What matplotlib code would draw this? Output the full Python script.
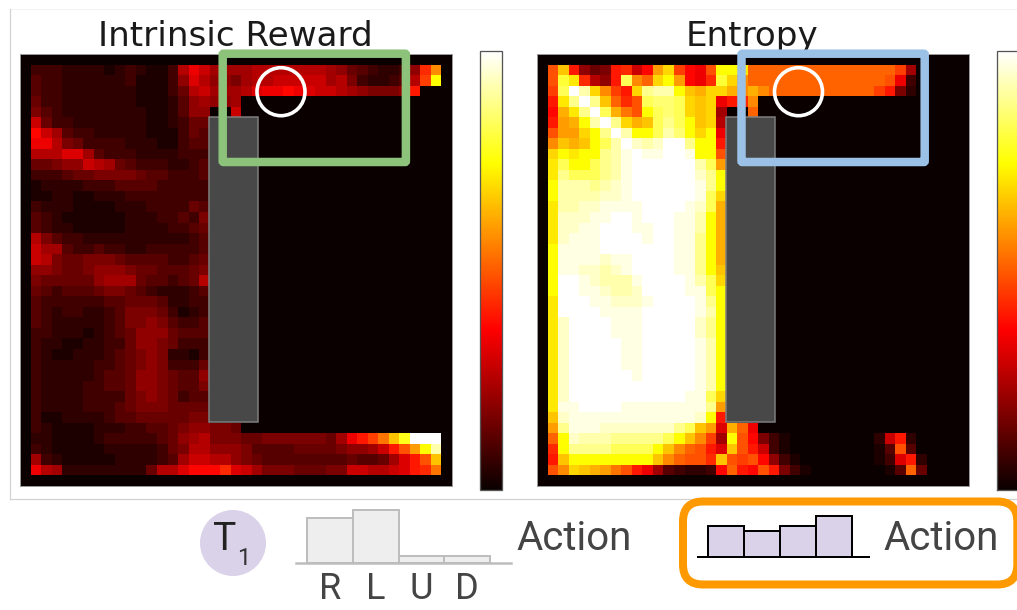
import matplotlib
matplotlib.use("Agg")
import matplotlib.pyplot as plt
import numpy as np
from matplotlib.patches import Rectangle, Circle, FancyBboxPatch

W, H = 1017, 610

# heatmap cells, one base-36 digit per cell (0 = 0.0, z = 1.0), short rows are 0 on the right
intrinsic_rows = [
    "3332222123211 39ca 8888 9999999 875432237fk",
    "4332222223111 37b9 7768 99aaaaa 896322349gq",
    "4332222222111 359a 8889 bccdcbaa9 876667e",
    "53322222221112478778",
    "6432222222211247700a",
    "a5332222222112355",
    "da843322222111354",
    "cc965333322211344",
    "999bb843332222333",
    "55677a98543332234",
    "33345566665443334",
    "12222333444433333",
    "11221122233333333",
    "32221111222333354",
    "43211111122233436",
    "43221111122223345",
    "96433222222222234",
    "a8843343322333334",
    "a9655666544443345",
    "77655677765544456",
    "65555578885443459",
    "54344456654322234",
    "43333334455542233",
    "43233223466653123",
    "43222223466764334",
    "33222123457775444",
    "32211223357765333",
    "32112223456762213",
    "32222233456763335",
    "32222234457765447",
    "32222334457765446",
    "32222333356765344",
    "32222333456665555",
    "31122223445555566",
    "32111122233445677665",
    "221111233333457896665566666658cegjnrzzz",
    "321111122222356997776444455556778aehlqw",
    "832111112222348aa997654444444454458behn",
    "c9822222222599bdddfba866655566aa99abefj",
]

entropy_rows = [
    "hne756efadlogdchqqpiiiiiiiiiiiiiig8",
    "hspf97etkioqldcfsokiiiiiiiiiiiiihc3",
    "gtzwokgeovwwqnmoomkmkiiiiiiiiiige62",
    "epvzvnifhtuutonocefk",
    "dmpvztmjhqtutono800i",
    "elmqwzvomntvtqno9",
    "hlloqvzwqqtwuqoqc",
    "knmnqtwzxwxzzvqqe",
    "oqpqqvwyzyyzzyqqh",
    "ptqqtvwyzzzzzzwtl",
    "pvtttvwyzzzzzzxvq",
    "qwwwvwxyzzzzzzyvq",
    "qwwwwxxyzzzzzzyto",
    "pwwxxyyyyzzzzyxtm",
    "pxxxyyzzyzzzyywqm",
    "pxxyyzzzyyzzyywqm",
    "pxyyyzzzzyzzyyvqm",
    "qyyyyzzzzzzzyyvqm",
    "qyyyyxyyzzzzyyvqm",
    "qyyxxwxyzzzzyyvqn",
    "qzzyxwwwyzzzzywto",
    "qzzyyxwwxzzzzyytq",
    "pzzzyyxxxyzzzzyvq",
    "pzzzzyyyyzzzzzywq",
    "pxzzzzyyyzzzzzxvq",
    "pxzzzzyyyzzzzzxvq",
    "pxzzzzzyyzzzzzywq",
    "pxzzzzzyyzzzzzywq",
    "pxzzzzzyyzzzzzywq",
    "pxzzzzzzyzzzzzywq",
    "pxzzzzzzzzzzzzywq",
    "pxzzzzzzzzzzzyyto",
    "pyyzzzzyyyyyyyyvl",
    "nxyyyyyyyyyyyyxqe",
    "lvyyyxxxxxxxvtnlbmic",
    "iqxwwwvvvvvtqnkg8qhd631000000002ae2",
    "fqvvvvttttqnkihebnhea310000000014h4",
    "enqqqqqqqqnkihhfnhghd731000000013be2",
    "hkonmljhec843223diedhe631000000014i5",
]

action_labels = ["R", "L", "U", "D"]
t1_probs = [0.40, 0.47, 0.062, 0.066]
mixed_probs = [0.24, 0.20, 0.24, 0.32]


def to_grid(rows):
    # one empty cell all round the map
    grid = np.zeros((41, 41))
    for i, row in enumerate(rows):
        for j, ch in enumerate(row.replace(" ", "")):
            grid[i + 1, j + 1] = int(ch, 36) / 35
    return grid


def px_axes(x0, y0, x1, y1):
    return fig.add_axes([x0 / W, 1 - y1 / H, (x1 - x0) / W, (y1 - y0) / H])


def px(n):
    return n * 72 / 100


fig = plt.figure(figsize=(W / 100, H / 100), dpi=100)

# overlay in image pixels, below the heatmaps for the frame
back = px_axes(0, 0, W, H)
back.set_xlim(0, W)
back.set_ylim(H, 0)
back.axis("off")
back.plot([9.5, W], [8.5, 8.5], color="#f2f2f2", lw=px(1))
back.plot([9.5, 9.5], [8.5, 499], color="#d2d2d2", lw=px(1.2))
back.plot([9.5, W], [499, 499], color="#d2d2d2", lw=px(1.2))

for x0, rows, title, tx in [(20, intrinsic_rows, "Intrinsic Reward", 235),
                            (537, entropy_rows, "Entropy", 752)]:
    ax = px_axes(x0, 54, x0 + 432, 486)
    im = ax.imshow(to_grid(rows), cmap="hot", vmin=0, vmax=1, interpolation="nearest", aspect="auto")
    ax.set_xticks([])
    ax.set_yticks([])
    for s in ax.spines.values():
        s.set_color("#999999")
        s.set_linewidth(px(1))
    back.text(tx, 46, title, fontsize=24.6, family="DejaVu Sans", color="#1a1a1a", ha="center", va="baseline")

    cax = px_axes(x0 + 459.5, 51, x0 + 481.5, 490)
    cb = fig.colorbar(im, cax=cax)
    cb.set_ticks([])
    cb.outline.set_edgecolor("#555555")
    cb.outline.set_linewidth(px(1.3))

# everything drawn on top of the maps
over = px_axes(0, 0, W, H)
over.set_xlim(0, W)
over.set_ylim(H, 0)
over.axis("off")
over.patch.set_alpha(0)

for x in [208.5, 725.5]:
    over.add_patch(Rectangle((x, 117), 49.5, 305, fc="#484848", ec="#7f7f7f", lw=px(1.5)))

for x, color in [(222.7, "#8cc27a"), (741.5, "#9bc2e6")]:
    over.add_patch(FancyBboxPatch((x, 53.7), 183.2, 108.3, boxstyle="round,pad=0,rounding_size=1",
                                  fill=False, ec=color, lw=px(8.5)))

for x in [281, 798.5]:
    over.add_patch(Circle((x, 91.7), 24, fill=False, ec="white", lw=px(3.6)))

# T1 badge
over.add_patch(Circle((233, 543), 33, fc="#d9d2e9", ec="none"))
over.text(224.5, 550, "T", fontsize=28, family="Roboto", color="#222222", ha="center", va="baseline")
over.text(244, 565, "1", fontsize=17, family="Roboto", color="#333333", ha="center", va="baseline")

# option box
over.add_patch(FancyBboxPatch((683, 501.5), 334.3, 83, boxstyle="round,pad=0,rounding_size=20",
                              fc="white", ec="#ff9900", lw=px(8)))

over.text(574.5, 550, "Action", fontsize=29, family="Roboto", color="#444444", ha="center", va="baseline")
over.text(941.5, 550.5, "Action", fontsize=29, family="Roboto", color="#444444", ha="center", va="baseline")

# grey action bars
bar1 = px_axes(296, 506.6, 511, 563)
bar1.patch.set_alpha(0)
bar1.bar(range(4), t1_probs, width=1, color="#eeeeee", edgecolor="#bdbdbd", linewidth=px(2))
bar1.set_xlim(-0.752, 3.96)
bar1.set_ylim(0, 0.5)
bar1.set_yticks([])
bar1.set_xticks(range(4))
bar1.set_xticklabels(action_labels, fontsize=26, family="Roboto", color="#444444")
bar1.tick_params(axis="x", length=0, pad=6)
for name in ["top", "left", "right"]:
    bar1.spines[name].set_visible(False)
bar1.spines["bottom"].set_color("#bdbdbd")
bar1.spines["bottom"].set_linewidth(px(2.5))

# purple action bars
bar2 = px_axes(698, 512.2, 869, 556.7)
bar2.patch.set_alpha(0)
bar2.bar(range(4), mixed_probs, width=1, color="#d9d2e9", edgecolor="black", linewidth=px(2))
bar2.set_xlim(-0.778, 3.97)
bar2.set_ylim(0, 0.35)
bar2.set_xticks([])
bar2.set_yticks([])
for name in ["top", "left", "right"]:
    bar2.spines[name].set_visible(False)
bar2.spines["bottom"].set_linewidth(px(2))

fig.savefig("out.png", dpi=100)
